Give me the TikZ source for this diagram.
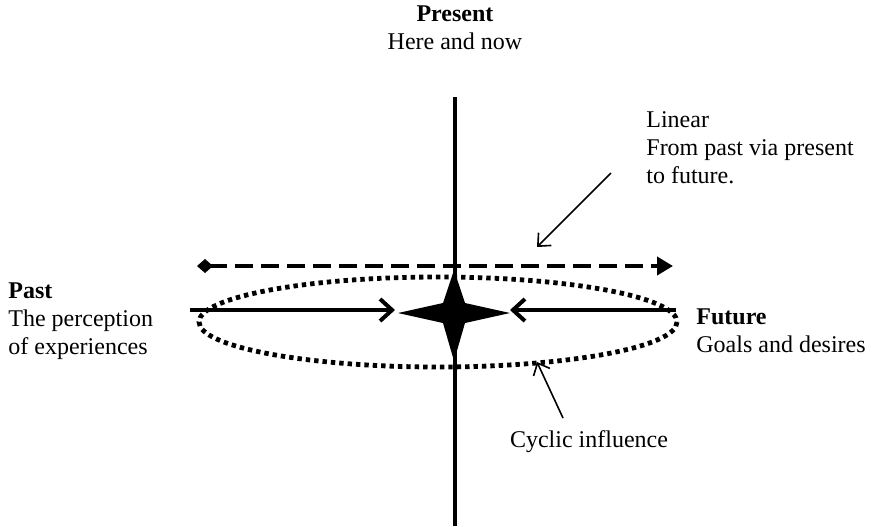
\documentclass[tikz,border=0pt]{standalone}
\usepackage{fontspec}
\setmainfont{Liberation Serif}
\usetikzlibrary{arrows.meta}

\begin{document}
\begin{tikzpicture}[x=0.5pt,y=-0.5pt,line cap=butt,line join=miter,
    txt/.style={font=\fontsize{12}{14}\selectfont,inner sep=0pt,align=left},
    axisline/.style={line width=2.2pt},
    linearline/.style={line width=2.4pt,dash pattern=on 9pt off 4pt},
    cycleline/.style={line width=2.4pt,dash pattern=on 2.2pt off 2pt},
    flowarrow/.style={line width=2pt,-{Straight Barb[length=6pt,width=11pt,line width=2pt]}},
    pointer/.style={line width=0.8pt,-{Straight Barb[length=5pt,width=9pt,line width=0.8pt]}}]
  \useasboundingbox (0,0) rectangle (879,526);

  % --- time axis (present) ---
  \coordinate (top) at (455,97);
  \coordinate (bottom) at (455,526);
  \draw[axisline] (top) -- (bottom);
  \node[txt,align=center] (present) at (455,28) {\textbf{Present}\\Here and now};

  % --- linear time line ---
  \coordinate (lin-l) at (197,266);
  \coordinate (lin-r) at (673,266);
  \draw[linearline,{Diamond[length=8pt,width=7pt]}-{Triangle[length=8pt,width=9pt]}] (lin-l) -- (lin-r);

  % --- cyclic influence ---
  \coordinate (mid) at (438,322);
  \draw[cycleline] (mid) ellipse [x radius=239,y radius=45];

  % --- past and future towards the present ---
  \coordinate (past-end) at (190,310);
  \coordinate (past-tip) at (395,310);
  \coordinate (fut-end) at (676,310);
  \coordinate (fut-tip) at (510,310);
  \draw[flowarrow] (past-end) -- (past-tip);
  \draw[flowarrow] (fut-end) -- (fut-tip);

  % --- now (four point star) ---
  \coordinate (now) at (454,313);
  \fill (now) ++(-56,0) -- ++(45,-10) -- ++(11,-33) -- ++(11,33)
        -- ++(45,10) -- ++(-45,10) -- ++(-11,38) -- ++(-11,-38) -- cycle;

  % --- labels ---
  \node[txt,anchor=west] (past) at (8,321) {\textbf{Past}\\The perception\\of experiences};
  \node[txt,anchor=west] (future) at (696,331) {\textbf{Future}\\Goals and desires};
  \node[txt,anchor=west] (linear) at (646,148) {Linear\\From past via present\\to future.};
  \node[txt] (cyclic) at (589,442) {Cyclic influence};

  % --- pointers ---
  \coordinate (lin-from) at (611,173);
  \coordinate (lin-to) at (537,247);
  \coordinate (cyc-from) at (563,418);
  \coordinate (cyc-to) at (537,362);
  \draw[pointer] (lin-from) -- (lin-to);
  \draw[pointer] (cyc-from) -- (cyc-to);
\end{tikzpicture}
\end{document}
